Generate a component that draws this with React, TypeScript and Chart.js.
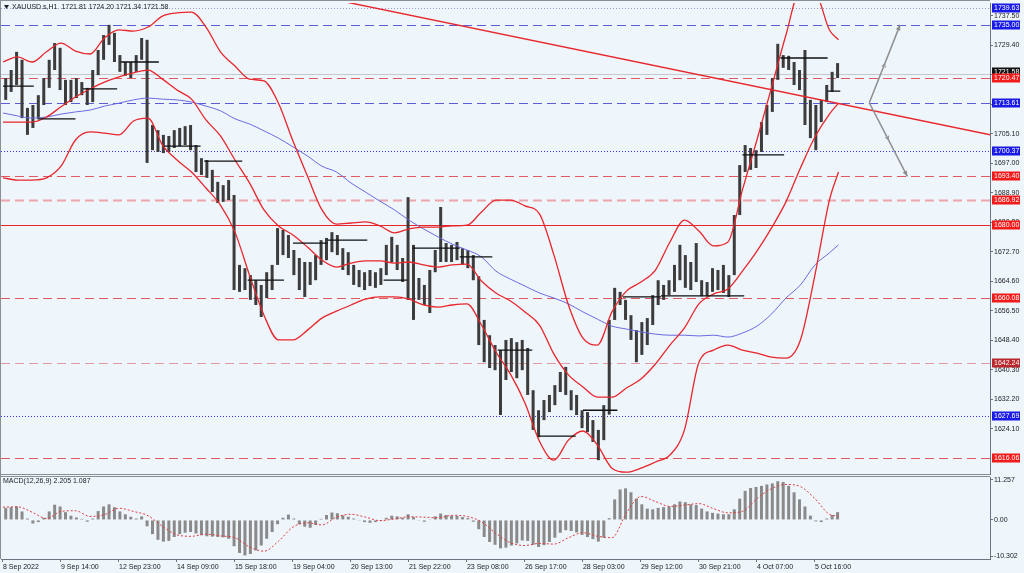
import React, { useEffect, useRef } from "react";
import { Chart, registerables } from "chart.js";

Chart.register(...registerables);

// ---------------- data ----------------
const symbolTitle = "XAUUSD.s,H1";
const lastBarOHLC = [1721.81, 1724.2, 1721.34, 1721.58];
const macdTitle = "MACD(12,26,9)";
const macdLast = [2.205, 1.087];

// price bars (each bar aggregates 3 hourly bars), hour index of first bar centre
const HOURS_PER_BAR = 3;
const FIRST_BAR_HOUR = 1.5;

const barHigh = [
  1720.4, 1722.6, 1727.6, 1725.4, 1712.2, 1713.0, 1715.7, 1720.4, 1725.4, 1730.0,
  1728.7, 1719.9, 1719.9, 1720.4, 1719.3, 1717.7, 1722.6, 1728.1, 1732.2, 1735.0,
  1732.8, 1726.7, 1724.8, 1724.8, 1726.7, 1731.4, 1730.9, 1707.5, 1706.1, 1704.8,
  1704.5, 1706.1, 1706.7, 1707.2, 1707.5, 1702.0, 1698.4, 1697.9, 1695.2, 1691.9,
  1691.0, 1692.4, 1688.3, 1669.1, 1668.2, 1666.3, 1664.9, 1663.6, 1667.1, 1669.1,
  1679.2, 1678.7, 1677.3, 1673.2, 1671.0, 1669.9, 1669.9, 1671.8, 1675.9, 1676.5,
  1678.1, 1677.3, 1673.7, 1672.6, 1669.1, 1667.7, 1667.1, 1667.7, 1667.1, 1668.2,
  1674.6, 1676.8, 1674.6, 1671.0, 1687.7, 1674.6, 1665.5, 1663.6, 1667.7, 1673.2,
  1685.0, 1675.1, 1674.6, 1675.4, 1673.7, 1673.2, 1671.8, 1666.0, 1654.0, 1649.8,
  1647.1, 1645.7, 1648.5, 1649.0, 1647.9, 1648.5, 1646.3, 1634.7, 1629.2, 1632.0,
  1633.4, 1636.1, 1639.7, 1641.1, 1634.7, 1633.4, 1629.2, 1628.7, 1626.5, 1623.8,
  1630.6, 1654.0, 1662.8, 1661.7, 1659.5, 1655.3, 1651.2, 1653.4, 1654.5, 1660.8,
  1664.9, 1663.6, 1664.9, 1669.1, 1674.6, 1671.8, 1669.9, 1675.1, 1664.9, 1664.4,
  1668.2, 1667.7, 1669.1, 1666.3, 1682.8, 1696.5, 1702.0, 1701.2, 1700.6, 1708.3,
  1713.0, 1720.4, 1729.8, 1726.7, 1726.5, 1724.8, 1722.6, 1728.1, 1714.4, 1713.0,
  1714.4, 1718.5, 1722.1, 1724.5,
];
const barLow = [
  1714.4, 1716.6, 1718.5, 1709.4, 1704.8, 1706.7, 1709.4, 1713.0, 1717.7, 1722.6,
  1717.1, 1713.0, 1713.8, 1714.9, 1715.7, 1713.0, 1713.8, 1721.2, 1725.4, 1729.5,
  1724.8, 1722.1, 1721.0, 1720.4, 1722.1, 1725.4, 1697.1, 1700.6, 1700.1, 1699.8,
  1700.1, 1701.2, 1701.7, 1702.0, 1700.6, 1694.6, 1693.8, 1693.0, 1689.1, 1686.1,
  1686.4, 1686.9, 1662.2, 1661.7, 1662.2, 1659.5, 1658.1, 1654.8, 1660.0, 1662.2,
  1669.1, 1671.8, 1671.0, 1666.3, 1662.2, 1660.3, 1663.6, 1664.9, 1669.1, 1670.4,
  1672.6, 1671.8, 1667.7, 1666.3, 1663.6, 1663.0, 1662.2, 1663.3, 1662.8, 1663.6,
  1666.3, 1669.9, 1667.7, 1664.4, 1659.5, 1654.0, 1659.5, 1658.1, 1655.9, 1667.1,
  1669.9, 1669.9, 1669.9, 1670.4, 1669.1, 1668.2, 1664.9, 1647.1, 1642.4, 1640.8,
  1640.2, 1627.9, 1637.5, 1639.7, 1638.0, 1640.2, 1633.4, 1623.8, 1621.8, 1626.5,
  1628.7, 1630.6, 1634.2, 1633.4, 1629.2, 1627.9, 1624.3, 1623.2, 1620.5, 1615.5,
  1621.0, 1628.0, 1654.0, 1658.1, 1654.0, 1648.5, 1642.4, 1644.4, 1647.1, 1652.6,
  1658.1, 1659.5, 1660.8, 1661.7, 1664.9, 1662.8, 1662.2, 1664.4, 1660.5, 1660.5,
  1661.7, 1662.2, 1661.4, 1660.3, 1666.3, 1682.8, 1694.6, 1695.2, 1695.7, 1700.1,
  1704.8, 1711.1, 1719.9, 1723.2, 1722.6, 1718.5, 1717.1, 1707.5, 1703.9, 1700.6,
  1708.3, 1713.8, 1716.6, 1720.4,
];
const macdHist = [
  3.4, 3.6, 3.8, 2.4, 0.4, -1.0, -0.6, 0.6, 2.4, 4.3,
  3.8, 2.2, 1.2, 0.7, 0.3, -0.5, 0.4, 2.5, 3.8, 4.4,
  3.6, 2.4, 1.6, 0.9, 0.4, 1.0, -1.8, -4.0, -5.6, -6.1,
  -5.9, -4.8, -4.0, -3.6, -3.4, -3.8, -4.3, -4.6, -4.7, -4.8,
  -4.9, -5.3, -7.4, -9.3, -10.0, -9.6, -8.6, -7.2, -5.3, -3.4,
  -1.2, 0.6, 1.5, 0.4, -1.2, -1.9, -2.2, -1.4, 0.3, 1.4,
  2.1, 1.9, 1.3, 0.9, 0.4, -0.2, -0.6, -0.8, -0.6, -0.3,
  0.6, 1.2, 1.0, 0.6, 1.6, 0.8, -0.2, -0.5, 0.2, 1.0,
  1.8, 1.4, 1.2, 1.1, 0.8, 0.5, -0.5, -2.6, -4.8, -6.2,
  -7.0, -8.0, -7.8, -7.2, -6.6, -5.8, -5.9, -7.0, -7.6, -7.1,
  -6.2, -5.0, -3.6, -2.9, -3.1, -3.5, -4.2, -4.8, -5.4, -6.1,
  -5.0, 0.5, 5.8, 8.6, 8.9, 7.8, 6.0, 4.4, 3.2, 3.0,
  3.4, 3.6, 3.8, 4.4, 5.2, 5.0, 4.4, 4.2, 3.2, 2.4,
  2.0, 1.8, 1.6, 1.6, 3.0, 6.0, 8.2, 9.0, 9.3, 9.6,
  10.0, 10.3, 10.9, 10.7, 9.6, 7.8, 5.8, 3.8, 1.2, -0.4,
  -0.6, 0.4, 1.4, 2.2,
];

// indicator lines, sampled at these hour indices
const lineHours = [
  0, 8, 16, 24, 32, 40, 48, 56, 64, 72, 80, 88, 96, 104, 112, 120, 128, 136, 144, 152,
  160, 168, 176, 184, 192, 200, 208, 216, 224, 232, 240, 248, 256, 264, 272, 280, 288, 296, 304, 312,
  320, 328, 336, 344, 352, 360, 368, 376, 384, 392, 400, 408, 416, 424, 432, 440, 448, 456, 461,
];
const bbUpper = [
  1724.8, 1726.2, 1724.8, 1727.6, 1730.0, 1727.8, 1727.0, 1731.4, 1733.6, 1733.3,
  1734.4, 1737.4, 1738.3, 1738.5, 1734.4, 1727.6, 1723.7, 1720.1, 1719.6, 1713.5,
  1703.1, 1693.5, 1684.2, 1680.3, 1680.6, 1680.9, 1679.8, 1677.9, 1679.0, 1679.5,
  1679.5, 1679.8, 1680.0, 1683.6, 1686.9, 1686.9, 1685.3, 1683.1, 1671.8, 1658.1,
  1649.0, 1647.1, 1656.2, 1661.9, 1664.4, 1667.7, 1675.4, 1681.4, 1678.4, 1674.3,
  1675.4, 1689.7, 1703.4, 1717.7, 1732.2, 1744.6, 1744.0, 1733.6, 1730.9,
];
const bbMiddle = [
  1708.3, 1708.3, 1708.3, 1709.7, 1712.5, 1715.2, 1717.4, 1719.3, 1720.7, 1721.8,
  1722.6, 1720.1, 1717.1, 1714.6, 1708.9, 1704.5, 1697.9, 1691.6, 1684.2, 1679.8,
  1677.3, 1674.0, 1670.4, 1668.5, 1669.6, 1670.2, 1670.2, 1669.6, 1669.9, 1669.1,
  1668.5, 1669.1, 1669.3, 1664.7, 1661.4, 1659.2, 1656.2, 1652.6, 1644.6, 1638.9,
  1635.6, 1632.8, 1632.8, 1635.3, 1637.8, 1641.9, 1647.1, 1651.8, 1658.4, 1661.1,
  1662.5, 1667.4, 1672.9, 1679.2, 1686.4, 1695.7, 1704.2, 1710.5, 1713.5,
];
const bbLower = [
  1693.0, 1692.4, 1692.4, 1693.0, 1696.2, 1703.4, 1705.6, 1705.3, 1704.8, 1708.6,
  1709.4, 1702.0, 1697.9, 1694.6, 1690.2, 1685.5, 1678.1, 1666.3, 1655.3, 1648.5,
  1648.5, 1651.2, 1654.5, 1656.4, 1658.1, 1659.7, 1660.3, 1660.3, 1659.7, 1658.1,
  1657.5, 1658.1, 1658.4, 1652.6, 1645.2, 1639.1, 1631.2, 1620.7, 1615.5, 1621.0,
  1623.5, 1619.6, 1613.3, 1612.2, 1613.3, 1615.0, 1616.9, 1623.8, 1642.4, 1645.7,
  1647.1, 1645.7, 1644.9, 1643.8, 1643.5, 1648.5, 1666.3, 1686.9, 1694.6,
];
const maSlow = [
  1710.8, 1710.0, 1709.4, 1709.7, 1710.5, 1711.1, 1711.6, 1712.7, 1713.5, 1714.4,
  1714.9, 1714.6, 1714.4, 1713.8, 1712.7, 1711.4, 1709.2, 1707.8, 1705.9, 1703.9,
  1701.5, 1699.0, 1696.2, 1694.6, 1691.6, 1689.1, 1686.6, 1684.2, 1681.4, 1679.0,
  1676.8, 1674.8, 1673.2, 1671.3, 1667.4, 1665.2, 1663.3, 1661.4, 1660.0, 1658.4,
  1656.2, 1654.2, 1652.3, 1651.5, 1650.7, 1650.1, 1649.8, 1649.8, 1649.6, 1649.8,
  1649.3, 1650.4, 1652.3, 1655.6, 1660.0, 1663.6, 1669.1, 1672.4, 1674.6,
];
const macdSignal = [
  3.6, 3.7, 2.2, 0.4, 2.4, 2.6, 1.0, 1.5, 3.3, 2.4,
  1.2, -1.8, -4.2, -4.6, -4.0, -4.5, -5.0, -7.6, -8.8, -6.0,
  -2.0, -0.8, -1.4, 0.8, 1.6, 0.8, -0.2, 0.3, 0.9, 0.8,
  0.6, 1.3, 1.0, -0.5, -3.8, -6.4, -7.2, -6.6, -6.8, -5.0,
  -3.6, -4.6, -5.0, 2.0, 6.6, 5.2, 3.8, 4.2, 4.6, 3.2,
  2.0, 2.4, 6.0, 8.8, 10.0, 9.4, 6.0, 1.6, 1.1,
];

// axes
const timeTickHours = [0, 32, 64, 96, 128, 160, 192, 224, 256, 288, 320, 352, 384, 416, 448];
const timeTickLabels = [
  "8 Sep 2022", "9 Sep 14:00", "12 Sep 23:00", "14 Sep 09:00", "15 Sep 18:00",
  "19 Sep 04:00", "20 Sep 13:00", "21 Sep 22:00", "23 Sep 08:00", "26 Sep 17:00",
  "28 Sep 03:00", "29 Sep 12:00", "30 Sep 21:00", "4 Oct 07:00", "5 Oct 16:00",
];
const priceTicks = [
  1624.1, 1632.2, 1640.3, 1648.4, 1656.5, 1664.6, 1672.7, 1680.8,
  1688.9, 1697.0, 1705.1, 1713.2, 1721.3, 1729.4, 1737.5,
];
const macdTicks = [-10.302, 0, 11.257];

// horizontal levels
const levelPrices = [
  1739.63, 1735.0, 1720.47, 1713.61, 1700.37, 1693.4,
  1686.92, 1680.0, 1660.08, 1642.24, 1627.69, 1616.06,
];
const levelKinds = [
  "dotGray", "dashBlue", "dashRed", "dashBlue", "dotBlue", "dashRed",
  "dashPink", "solidRed", "dashRed", "dashPinkDark", "dotBlue", "dashRed",
];

// short horizontal segments
const segStartHour = [0, 19, 44, 65, 89, 111, 135, 160, 179, 210, 226, 252, 273, 295, 320, 342, 363, 408, 429, 455];
const segEndHour = [17, 40, 63, 86, 109, 132, 155, 179, 201, 223, 252, 270, 292, 316, 339, 363, 409, 431, 455, 462];
const segPrice = [
  1718.2, 1709.2, 1717.4, 1724.8, 1701.7, 1697.6, 1664.9, 1675.1, 1675.9, 1664.9,
  1673.7, 1671.3, 1645.7, 1622.1, 1629.2, 1660.3, 1660.6, 1699.3, 1725.9, 1716.8,
];

// trend line & projection arrows
const trendHours = [186, 545];
const trendPrices = [1741.6, 1704.8];
const projStart = { hour: 478, price: 1713.61 };
const projUp = { hour: 495, price: 1735.0 };
const projDown = { hour: 499, price: 1693.4 };

// ---------------- styles ----------------
const BG = "#eef5fb";
const AXIS = "#6b7480";
const FONT = "'Liberation Sans', Arial, sans-serif";
const RED = "#e8262b";
const LEVEL_STYLE: Record<string, any> = {
  dotGray: { color: "#9a9ac8", dash: [1, 2], width: 1, label: "#1a1ae8" },
  dashBlue: { color: "#5c5cd4", dash: [9, 5], width: 1, label: "#1a1ae8" },
  dotBlue: { color: "#3434ee", dash: [1, 2], width: 1, label: "#1a1ae8" },
  dashRed: { color: "#e05a62", dash: [9, 5], width: 1, label: "#f41a1a" },
  dashPink: { color: "#eaa6aa", dash: [9, 5], width: 2, label: "#f41a1a" },
  solidRed: { color: RED, dash: [], width: 1.2, label: "#f41a1a" },
  dashPinkDark: { color: "#e49aa0", dash: [9, 5], width: 1, label: "#b8282c" },
};
const X_MIN = -1.1;
const X_MAX = 544.6;

const pts = (xs: number[], ys: number[]) => xs.map((x, i) => ({ x, y: ys[i] }));
const barHour = (i: number) => FIRST_BAR_HOUR + i * HOURS_PER_BAR;

export default function App() {
  const mainRef = useRef<HTMLCanvasElement>(null);
  const macdRef = useRef<HTMLCanvasElement>(null);

  useEffect(() => {
    document.body.style.margin = "0";
    const font = { family: FONT, size: 7 };

    const segData: any[] = [];
    segStartHour.forEach((s, i) => {
      segData.push({ x: s, y: segPrice[i] });
      segData.push({ x: segEndHour[i], y: segPrice[i] });
      segData.push({ x: segEndHour[i], y: null });
    });

    const lineDs = (data: any, color: string, width: number, order: number, extra: any = {}) => ({
      type: "line",
      data,
      borderColor: color,
      borderWidth: width,
      pointRadius: 0,
      fill: false,
      cubicInterpolationMode: "monotone",
      order,
      ...extra,
    });

    const levelsPlugin = {
      id: "levels",
      beforeDatasetsDraw(chart: any) {
        const { ctx, chartArea: a, scales } = chart;
        const y = scales.y;
        ctx.save();
        ctx.beginPath();
        ctx.rect(a.left, a.top, a.right - a.left, a.bottom - a.top);
        ctx.clip();
        const by = Math.round(y.getPixelForValue(lastBarOHLC[3])) + 0.5;
        ctx.strokeStyle = "#c4c8cc";
        ctx.lineWidth = 1;
        ctx.setLineDash([]);
        ctx.beginPath();
        ctx.moveTo(a.left, by);
        ctx.lineTo(a.right, by);
        ctx.stroke();
        levelPrices.forEach((p, i) => {
          const st = LEVEL_STYLE[levelKinds[i]];
          const yy = Math.round(y.getPixelForValue(p)) + 0.5;
          ctx.strokeStyle = st.color;
          ctx.lineWidth = st.width;
          ctx.setLineDash(st.dash);
          ctx.beginPath();
          ctx.moveTo(a.left, yy);
          ctx.lineTo(a.right, yy);
          ctx.stroke();
        });
        ctx.restore();
      },
      afterDraw(chart: any) {
        const { ctx, chartArea: a, scales } = chart;
        const x = scales.x;
        const y = scales.y;
        ctx.save();
        const sx = x.getPixelForValue(projStart.hour);
        const sy = y.getPixelForValue(projStart.price);
        [projUp, projDown].forEach((e) => {
          const ex = x.getPixelForValue(e.hour);
          const ey = y.getPixelForValue(e.price);
          ctx.strokeStyle = "#8e8e8e";
          ctx.fillStyle = "#8e8e8e";
          ctx.lineWidth = 1.5;
          ctx.setLineDash([]);
          ctx.beginPath();
          ctx.moveTo(sx, sy);
          ctx.lineTo(ex, ey);
          ctx.stroke();
          const ang = Math.atan2(ey - sy, ex - sx);
          const L = 6;
          ctx.beginPath();
          ctx.moveTo(ex, ey);
          ctx.lineTo(ex - L * Math.cos(ang - 0.4), ey - L * Math.sin(ang - 0.4));
          ctx.lineTo(ex - L * Math.cos(ang + 0.4), ey - L * Math.sin(ang + 0.4));
          ctx.closePath();
          ctx.fill();
          const mx = (sx + ex) / 2;
          const my = (sy + ey) / 2;
          ctx.beginPath();
          ctx.moveTo(mx, my);
          ctx.lineTo(mx - 4 * Math.cos(ang - 0.5), my - 4 * Math.sin(ang - 0.5));
          ctx.moveTo(mx, my);
          ctx.lineTo(mx - 4 * Math.cos(ang + 0.5), my - 4 * Math.sin(ang + 0.5));
          ctx.lineWidth = 1;
          ctx.stroke();
        });
        ctx.strokeStyle = "#8a8f96";
        ctx.lineWidth = 1;
        ctx.beginPath();
        ctx.moveTo(0.5, 0);
        ctx.lineTo(0.5, chart.height);
        ctx.moveTo(0, 0.5);
        ctx.lineTo(a.right, 0.5);
        ctx.moveTo(0, a.bottom + 0.5);
        ctx.lineTo(a.right, a.bottom + 0.5);
        ctx.stroke();
        ctx.font = `7px ${FONT}`;
        ctx.textBaseline = "middle";
        ctx.textAlign = "left";
        const tag = (p: number, bg: string, yOff = 0) => {
          const yy = Math.round(y.getPixelForValue(p)) + yOff;
          ctx.fillStyle = bg;
          ctx.fillRect(a.right + 2, yy - 4.5, 28, 9);
          ctx.fillStyle = "#ffffff";
          ctx.fillText(p.toFixed(2), a.right + 4, yy + 0.5);
        };
        tag(lastBarOHLC[3], "#111111", -2);
        levelPrices.forEach((p, i) => tag(p, LEVEL_STYLE[levelKinds[i]].label));
        ctx.fillStyle = "#222";
        ctx.beginPath();
        ctx.moveTo(4, 5);
        ctx.lineTo(9, 5);
        ctx.lineTo(6.5, 9);
        ctx.closePath();
        ctx.fill();
        ctx.font = `7px ${FONT}`;
        ctx.fillText(
          `${symbolTitle}  ${lastBarOHLC.map((v) => v.toFixed(2)).join(" ")}`,
          12,
          7.5
        );
        ctx.restore();
      },
    };

    const main = new Chart(mainRef.current as HTMLCanvasElement, {
      type: "bar",
      data: {
        datasets: [
          lineDs(pts(trendHours, trendPrices), RED, 1.4, 0, { cubicInterpolationMode: "default", tension: 0 }),
          lineDs(segData, "#111111", 1.3, 1, { spanGaps: false, cubicInterpolationMode: "default", tension: 0 }),
          lineDs(pts(lineHours, bbUpper), RED, 1.3, 2),
          lineDs(pts(lineHours, bbMiddle), RED, 1.3, 3),
          lineDs(pts(lineHours, bbLower), RED, 1.3, 4),
          lineDs(pts(lineHours, maSlow), "#6a6ae0", 1, 5),
          {
            type: "bar",
            data: barLow.map((lo, i) => ({ x: barHour(i), y: [lo, barHigh[i]] })),
            backgroundColor: "#3c3c3c",
            barThickness: 3,
            inflateAmount: 0,
            grouped: false,
            order: 10,
          },
        ] as any,
      },
      options: {
        responsive: false,
        maintainAspectRatio: false,
        animation: false,
        devicePixelRatio: 1,
        layout: { padding: { top: 3, bottom: 2, left: 1, right: 0 } },
        plugins: { legend: { display: false }, tooltip: { enabled: false } },
        scales: {
          x: { type: "linear", min: X_MIN, max: X_MAX, offset: false, display: false, grid: { offset: false } },
          y: {
            type: "linear",
            position: "right",
            min: 1611.7,
            max: 1741.0,
            afterBuildTicks: (s: any) => {
              s.ticks = priceTicks.map((v) => ({ value: v }));
            },
            afterFit: (s: any) => {
              s.width = 34;
              s.paddingTop = 0;
              s.paddingBottom = 0;
            },
            ticks: {
              callback: (v: any) => Number(v).toFixed(2),
              font,
              color: "#222",
              padding: 1,
              autoSkip: false,
            },
            grid: { drawOnChartArea: false, tickLength: 3, color: AXIS },
            border: { color: AXIS },
          },
        },
      } as any,
      plugins: [levelsPlugin],
    });

    const macdPlugin = {
      id: "macdText",
      afterDraw(chart: any) {
        const { ctx, chartArea: a } = chart;
        ctx.save();
        ctx.strokeStyle = "#8a8f96";
        ctx.lineWidth = 1;
        ctx.beginPath();
        ctx.moveTo(0.5, 0);
        ctx.lineTo(0.5, a.bottom);
        ctx.moveTo(0, 0.5);
        ctx.lineTo(a.right, 0.5);
        ctx.stroke();
        ctx.fillStyle = "#222";
        ctx.font = `7px ${FONT}`;
        ctx.textBaseline = "middle";
        ctx.fillText(`${macdTitle} ${macdLast[0].toFixed(3)} ${macdLast[1].toFixed(3)}`, 3, 5.5);
        ctx.restore();
      },
    };

    const macd = new Chart(macdRef.current as HTMLCanvasElement, {
      type: "bar",
      data: {
        datasets: [
          lineDs(pts(lineHours, macdSignal), "#e03a3a", 1, 1, { borderDash: [2, 2] }),
          {
            type: "bar",
            data: macdHist.map((v, i) => ({ x: barHour(i), y: v })),
            backgroundColor: "#8a8a8a",
            barThickness: 3,
            inflateAmount: 0,
            grouped: false,
            order: 2,
          },
        ] as any,
      },
      options: {
        responsive: false,
        maintainAspectRatio: false,
        animation: false,
        devicePixelRatio: 1,
        layout: { padding: { top: 1, bottom: 0, left: 1, right: 0 } },
        plugins: { legend: { display: false }, tooltip: { enabled: false } },
        scales: {
          x: {
            type: "linear",
            min: X_MIN,
            max: X_MAX,
            offset: false,
            afterBuildTicks: (s: any) => {
              s.ticks = timeTickHours.map((v) => ({ value: v }));
            },
            afterFit: (s: any) => {
              s.height = 14;
              s.paddingLeft = 0;
              s.paddingRight = 0;
            },
            ticks: {
              callback: (v: any) => timeTickLabels[timeTickHours.indexOf(Number(v))],
              align: "start",
              maxRotation: 0,
              minRotation: 0,
              autoSkip: false,
              padding: 1,
              font,
              color: "#222",
            },
            grid: { drawOnChartArea: false, offset: false, tickLength: 3, color: AXIS },
            border: { color: AXIS },
          },
          y: {
            type: "linear",
            position: "right",
            min: -11.0,
            max: 12.1,
            afterBuildTicks: (s: any) => {
              s.ticks = macdTicks.map((v) => ({ value: v }));
            },
            afterFit: (s: any) => {
              s.width = 34;
              s.paddingTop = 0;
              s.paddingBottom = 0;
            },
            ticks: {
              callback: (v: any) => (Number(v) === 0 ? "0.00" : String(v)),
              font,
              color: "#222",
              padding: 1,
              autoSkip: false,
            },
            grid: { drawOnChartArea: false, tickLength: 3, color: AXIS },
            border: { color: AXIS },
          },
        },
      } as any,
      plugins: [macdPlugin],
    });

    return () => {
      main.destroy();
      macd.destroy();
    };
  }, []);

  return (
    <div style={{ position: "relative", width: 1024, height: 573, background: BG, overflow: "hidden" }}>
      <canvas ref={mainRef} width={1024} height={476} style={{ position: "absolute", left: 0, top: 0 }} />
      <canvas ref={macdRef} width={1024} height={97} style={{ position: "absolute", left: 0, top: 476 }} />
    </div>
  );
}
